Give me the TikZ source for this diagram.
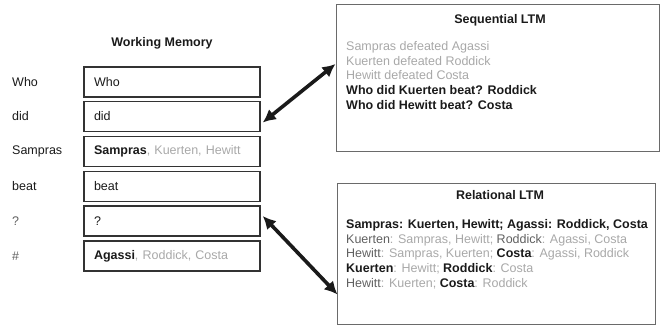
\documentclass[tikz,border=0pt]{standalone}
\usepackage{fontspec}
\setmainfont{Liberation Sans}
\usetikzlibrary{arrows.meta}
\definecolor{inkdark}{HTML}{1A1A1A}
\definecolor{inkmid}{HTML}{606060}
\definecolor{inklight}{HTML}{A8A8A8}
\definecolor{boxline}{HTML}{333333}
\definecolor{ltmline}{HTML}{6A6A6A}
\newcommand{\lt}[1]{\textcolor{inklight}{#1}}
\newcommand{\md}[1]{\textcolor{inkmid}{#1}}
\newcommand{\bk}[1]{\textcolor{inkdark}{\bfseries #1}}
\tikzset{
  txt/.style={font=\fontsize{12.5}{14.8}\selectfont, text=inkdark, inner sep=0pt},
  heading/.style={txt, font=\fontsize{12.5}{14.8}\selectfont\bfseries},
  wmslot/.style={draw=boxline, line width=1.5pt, minimum width=176pt, minimum height=30pt,
    text width=156pt, inner xsep=10pt, inner ysep=0pt, align=left,
    font=\fontsize{12.5}{14.8}\selectfont, text=inkdark},
  ltmbox/.style={draw=ltmline, line width=1pt},
  bigarrow/.style={line width=3.6pt, draw=inkdark,
    {Latex[length=13pt,width=13pt]}-{Latex[length=13pt,width=13pt]}},
}
\begin{document}
\begin{tikzpicture}[x=1pt,y=-1pt]
  \useasboundingbox (0,0) rectangle (663,334);

  % working memory column
  \node[heading] (wmtitle) at (162,43) {Working Memory};
  \node[wmslot] (w1) at (172,82)    {Who};
  \node[wmslot] (w2) at (172,116.5) {did};
  \node[wmslot] (w3) at (172,151.5) {\textbf{Sampras}\lt{, Kuerten, Hewitt}};
  \node[wmslot] (w4) at (172,186.5) {beat};
  \node[wmslot] (w5) at (172,221)   {?};
  \node[wmslot] (w6) at (172,256)   {\textbf{Agassi}\lt{, Roddick, Costa}};

  % input words
  \node[txt, anchor=west] (c1) at (12,82)    {Who};
  \node[txt, anchor=west] (c2) at (12,116.5) {did};
  \node[txt, anchor=west] (c3) at (12,151.5) {Sampras};
  \node[txt, anchor=west] (c4) at (12,186.5) {beat};
  \node[txt, anchor=west, text=inkmid] (c5) at (12,221) {?};
  \node[txt, anchor=west, text=inkmid] (c6) at (12,256) {\#};

  % sequential long-term memory
  \draw[ltmbox] (336,5) rectangle (659,151);
  \node[ltmbox, draw=none, minimum width=323pt, minimum height=146pt] (seq) at (497.5,78) {};
  \node[heading] (seqtitle) at (500,20) {Sequential LTM};
  \node[txt, anchor=north west, align=left] (seqtext) at (346,41) {%
    \lt{Sampras defeated Agassi}\\
    \lt{Kuerten defeated Roddick}\\
    \lt{Hewitt defeated Costa}\\
    \textbf{Who did Kuerten beat? Roddick}\\
    \textbf{Who did Hewitt beat? Costa}};

  % relational long-term memory
  \draw[ltmbox] (337,183) rectangle (655,324);
  \node[ltmbox, draw=none, minimum width=318pt, minimum height=141pt] (rel) at (496,253.5) {};
  \node[heading] (reltitle) at (500,195) {Relational LTM};
  \node[txt, anchor=north west, align=left] (reltext) at (346,219) {%
    \textbf{Sampras: Kuerten, Hewitt; Agassi: Roddick, Costa}\\
    \md{Kuerten}\lt{: Sampras, Hewitt; }\md{Roddick}\lt{: Agassi, Costa}\\
    \md{Hewitt}\lt{: Sampras, Kuerten; }\bk{Costa}\lt{: Agassi, Roddick}\\
    \bk{Kuerten}\lt{: Hewitt; }\bk{Roddick}\lt{: Costa}\\
    \md{Hewitt}\lt{: Kuerten; }\bk{Costa}\lt{: Roddick}};

  % retrieval links
  \draw[bigarrow] ([xshift=2pt,yshift=-6pt]w2.east) -- ([yshift=14pt]seq.west);
  \draw[bigarrow] ([xshift=2pt,yshift=5pt]w5.east) -- ([xshift=1pt,yshift=-41pt]rel.west);
\end{tikzpicture}
\end{document}
